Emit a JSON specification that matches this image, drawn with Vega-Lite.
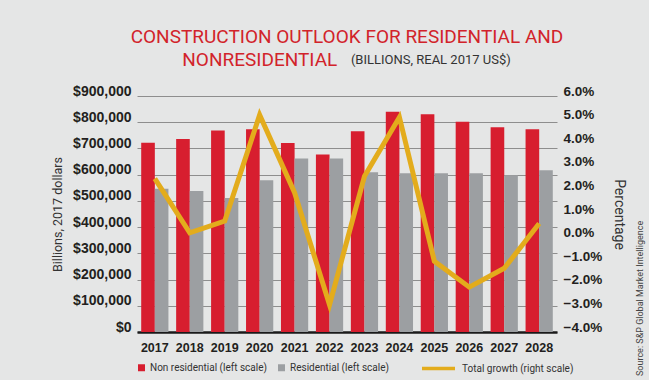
{
  "$schema": "https://vega.github.io/schema/vega-lite/v6.json",
  "background": "#e5e6e6",
  "padding": {"left": 51, "top": 28, "right": 4, "bottom": 4},
  "datasets": {
    "bars": [
      {"year": "2017", "series": "Non residential (left scale)", "value": 722000},
      {"year": "2018", "series": "Non residential (left scale)", "value": 736000},
      {"year": "2019", "series": "Non residential (left scale)", "value": 768000},
      {"year": "2020", "series": "Non residential (left scale)", "value": 773000},
      {"year": "2021", "series": "Non residential (left scale)", "value": 721000},
      {"year": "2022", "series": "Non residential (left scale)", "value": 677000},
      {"year": "2023", "series": "Non residential (left scale)", "value": 766000},
      {"year": "2024", "series": "Non residential (left scale)", "value": 840000},
      {"year": "2025", "series": "Non residential (left scale)", "value": 830000},
      {"year": "2026", "series": "Non residential (left scale)", "value": 802000},
      {"year": "2027", "series": "Non residential (left scale)", "value": 781000},
      {"year": "2028", "series": "Non residential (left scale)", "value": 773000},
      {"year": "2017", "series": "Residential (left scale)", "value": 546000},
      {"year": "2018", "series": "Residential (left scale)", "value": 538000},
      {"year": "2019", "series": "Residential (left scale)", "value": 511000},
      {"year": "2020", "series": "Residential (left scale)", "value": 579000},
      {"year": "2021", "series": "Residential (left scale)", "value": 662000},
      {"year": "2022", "series": "Residential (left scale)", "value": 662000},
      {"year": "2023", "series": "Residential (left scale)", "value": 609000},
      {"year": "2024", "series": "Residential (left scale)", "value": 605000},
      {"year": "2025", "series": "Residential (left scale)", "value": 605000},
      {"year": "2026", "series": "Residential (left scale)", "value": 605000},
      {"year": "2027", "series": "Residential (left scale)", "value": 598000},
      {"year": "2028", "series": "Residential (left scale)", "value": 617000}
    ],
    "growth": [
      {"year": "2017", "growth": 2.5},
      {"year": "2018", "growth": 0.2},
      {"year": "2019", "growth": 0.7},
      {"year": "2020", "growth": 5.2},
      {"year": "2021", "growth": 1.9},
      {"year": "2022", "growth": -2.85},
      {"year": "2023", "growth": 2.6},
      {"year": "2024", "growth": 5.1},
      {"year": "2025", "growth": -1.0},
      {"year": "2026", "growth": -2.1},
      {"year": "2027", "growth": -1.3},
      {"year": "2028", "growth": 0.6}
    ]
  },
  "title": {
    "text": "Source: S&P Global Market Intelligence",
    "orient": "right",
    "anchor": "end",
    "align": "left",
    "angle": -90,
    "offset": 1,
    "font": "Roboto",
    "fontSize": 9,
    "fontWeight": "normal",
    "color": "#444444"
  },
  "config": {
    "view": {"stroke": null},
    "axis": {"grid": false, "ticks": false, "domain": false},
    "legend": {"labelFont": "Roboto", "labelFontSize": 10, "labelColor": "#333333"}
  },
  "hconcat": [
    {
      "title": {
        "text": ["CONSTRUCTION OUTLOOK FOR RESIDENTIAL AND", "NONRESIDENTIAL\u00a0\u00a0\u00a0\u00a0\u00a0\u00a0\u00a0\u00a0\u00a0\u00a0\u00a0\u00a0\u00a0\u00a0\u00a0\u00a0\u00a0\u00a0\u00a0\u00a0\u00a0\u00a0\u00a0\u00a0\u00a0\u00a0\u00a0\u00a0\u00a0\u00a0\u00a0\u00a0\u00a0\u00a0\u00a0\u00a0\u00a0\u200b"],
        "subtitle": "\u200b\u00a0\u00a0\u00a0\u00a0\u00a0\u00a0\u00a0\u00a0\u00a0\u00a0\u00a0\u00a0\u00a0\u00a0\u00a0\u00a0\u00a0\u00a0\u00a0\u00a0\u00a0\u00a0\u00a0\u00a0\u00a0\u00a0\u00a0\u00a0\u00a0\u00a0\u00a0\u00a0\u00a0\u00a0\u00a0\u00a0\u00a0\u00a0\u00a0\u00a0\u00a0\u00a0\u00a0\u00a0\u00a0\u00a0\u00a0\u00a0\u00a0\u00a0\u00a0\u00a0(BILLIONS, REAL 2017 US$)",
        "anchor": "middle",
        "font": "Roboto",
        "fontSize": 19,
        "fontWeight": "normal",
        "color": "#d2232a",
        "lineHeight": 23,
        "subtitleFont": "Roboto",
        "subtitleFontSize": 13,
        "subtitleColor": "#333333",
        "subtitlePadding": -16,
        "offset": 14
      },
      "width": 420,
      "height": 236,
      "encoding": {
        "x": {
          "field": "year", "type": "ordinal",
          "scale": {"paddingInner": 0.22, "paddingOuter": 0.12},
          "axis": {
            "title": null, "labelAngle": 0, "domain": true, "domainColor": "#1a1a1a", "domainWidth": 2.5,
            "labelFont": "Liberation Sans", "labelFontWeight": "bold", "labelFontSize": 12.5,
            "labelColor": "#231f20", "labelPadding": 9.5
          }
        }
      },
      "layer": [
        {
          "data": {"name": "bars"},
          "transform": [{"filter": "datum.series === 'Non residential (left scale)'"}],
          "mark": {"type": "bar", "width": {"band": 0.5}, "xOffset": -6.8},
          "encoding": {
            "y": {
              "field": "value", "type": "quantitative",
              "scale": {"domain": [0, 900000], "nice": false},
              "axis": {
                "title": "Billions, 2017 dollars",
                "titleFont": "Roboto", "titleFontSize": 12.5, "titleFontWeight": "normal",
                "titleColor": "#333333", "titlePadding": 8,
                "values": [0, 100000, 200000, 300000, 400000, 500000, 600000, 700000, 800000, 900000],
                "format": "$,.0f",
                "labelFont": "Liberation Sans", "labelFontWeight": "bold", "labelFontSize": 14,
                "labelColor": "#231f20", "labelPadding": 6, "labelOffset": -5,
                "grid": true, "gridColor": "#8e8e8e", "gridWidth": 1
              }
            },
            "color": {
              "field": "series", "type": "nominal",
              "scale": {
                "domain": ["Non residential (left scale)", "Residential (left scale)"],
                "range": ["#d71e2f", "#9c9fa2"]
              },
              "legend": {
                "title": null, "orient": "bottom", "direction": "horizontal",
                "symbolType": "M-1,-0.212H-0.576V0.212H-1Z", "symbolSize": 1089,
                "labelOffset": -22, "columnPadding": 10, "offset": -4,
                "labelExpr": "datum.label === 'Residential (left scale)' ? datum.label + '\u00a0\u00a0\u00a0\u00a0\u00a0\u00a0\u00a0\u00a0\u00a0\u200b' : datum.label"
              }
            }
          }
        },
        {
          "data": {"name": "bars"},
          "transform": [{"filter": "datum.series === 'Residential (left scale)'"}],
          "mark": {"type": "bar", "width": {"band": 0.5}, "xOffset": 6.8},
          "encoding": {
            "y": {
              "field": "value", "type": "quantitative",
              "scale": {"domain": [0, 900000], "nice": false},
              "axis": null
            },
            "color": {"field": "series", "type": "nominal"}
          }
        },
        {
          "data": {"name": "growth"},
          "mark": {"type": "line", "strokeWidth": 5},
          "encoding": {
            "y": {
              "field": "growth", "type": "quantitative",
              "scale": {"domain": [-4, 6], "nice": false, "zero": false},
              "axis": {
                "orient": "right",
                "title": "Percentage",
                "titleFont": "Roboto", "titleFontSize": 14, "titleFontWeight": "normal",
                "titleColor": "#333333", "titlePadding": 10,
                "values": [-4, -3, -2, -1, 0, 1, 2, 3, 4, 5, 6],
                "labelExpr": "format(datum.value, '.1f') + '%'",
                "labelFont": "Liberation Sans", "labelFontWeight": "bold", "labelFontSize": 13.5,
                "labelColor": "#231f20", "labelPadding": 6, "labelOffset": -5
              }
            },
            "stroke": {
              "datum": "Total growth (right scale)",
              "scale": {"range": ["#e3ac1c"]},
              "legend": {
                "title": null, "orient": "bottom", "direction": "horizontal",
                "symbolType": "stroke", "symbolSize": 1089, "symbolStrokeWidth": 3.5, "labelOffset": 5, "offset": -4
              }
            }
          }
        }
      ],
      "resolve": {"scale": {"y": "independent"}}
    }
  ]
}
